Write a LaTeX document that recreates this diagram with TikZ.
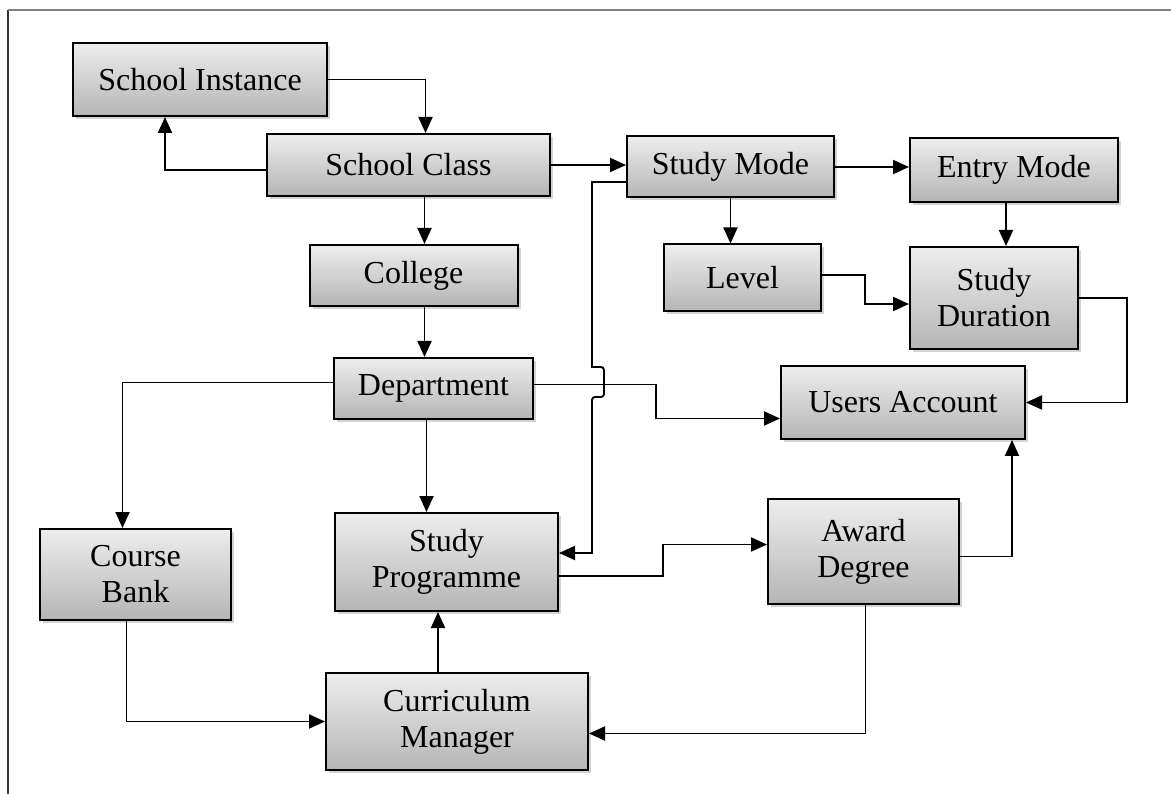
\documentclass[tikz,border=0pt]{standalone}
\usepackage{fontspec}
\setmainfont{Liberation Serif}
\usetikzlibrary{positioning,arrows.meta,calc,shadows}
\tikzset{
  box/.style={draw=black, line width=2pt, inner sep=0pt, align=center,
    top color=gray!14, bottom color=gray!58,
    drop shadow={shadow xshift=3pt, shadow yshift=-3pt, opacity=0.35, fill=gray},
    font=\fontsize{32}{36}\selectfont},
  link/.style={line width=1.9pt, -{Triangle[length=16pt,width=14pt]}},
}

\begin{document}
\begin{tikzpicture}[x=1pt,y=1pt]

\useasboundingbox (0,0) rectangle (1171,-794);
\draw[black!80, line width=1.4pt] (8,-794) -- (8,-10);
\draw[gray, line width=1.4pt] (8,-10) -- (1171,-10);

\node[box, minimum width=254pt, minimum height=73pt, anchor=north west] (inst) at (72,-42) {School Instance};
\node[box, minimum width=283pt, minimum height=62pt, below right=16pt and -62pt of inst] (cls) {School Class};
\node[box, minimum width=207pt, minimum height=61pt, right=75pt of cls, yshift=-2pt] (mode) {Study Mode};
\node[box, minimum width=208pt, minimum height=64pt, right=74pt of mode, yshift=-3pt] (entry) {Entry Mode};

\node[box, minimum width=208pt, minimum height=61pt, below=47pt of cls, xshift=5pt] (college) {College};
\node[box, minimum width=157pt, minimum height=67pt, below=45pt of mode, xshift=12pt] (level) {Level};
\node[box, minimum width=168pt, minimum height=102pt, below=43pt of entry, xshift=-20pt] (dur) {Study\\Duration};

\node[box, minimum width=199pt, minimum height=61pt, below=50pt of college, xshift=20pt] (dept) {Department};
\node[box, minimum width=244pt, minimum height=73pt, right=246pt of dept, yshift=-14pt] (users) {Users Account};

\node[box, minimum width=223pt, minimum height=98pt, below=92pt of dept, xshift=13pt] (prog) {Study\\Programme};
\node[box, minimum width=191pt, minimum height=91pt, left=102pt of prog, yshift=-12.5pt] (bank) {Course\\Bank};
\node[box, minimum width=191pt, minimum height=105pt, right=208pt of prog, yshift=10.5pt] (award) {Award\\Degree};
\node[box, minimum width=262pt, minimum height=97pt, below=60pt of prog, xshift=10.5pt] (curr) {Curriculum\\Manager};

\draw[link] (inst.east) -| ([xshift=17pt]cls.north);
\draw[link] ([yshift=-5pt]cls.west) -| ([xshift=-35pt]inst.south);
\draw[link] (cls.east) -- (cls.east -| mode.west);
\draw[link] (mode.east) -- (mode.east -| entry.west);
\draw[link] (mode.south) -- (mode.south |- level.north);
\draw[link] ([xshift=-8pt]entry.south) -- ([xshift=-8pt]entry.south |- dur.north);
\draw[link] ([yshift=3pt]level.east) -- ++(43pt,0) |- ([yshift=-6pt]dur.west);
\draw[link] (dur.east) -- ++(48pt,0) |- (users.east);
\draw[link] ([yshift=-5pt]award.east) -| ([xshift=109pt]users.south);

\draw[link] ([xshift=16pt]cls.south) -- ([xshift=16pt]cls.south |- college.north);
\draw[link] ([xshift=11pt]college.south) -- ([xshift=11pt]college.south |- dept.north);
\draw[link] ([xshift=-7pt]dept.south) -- ([xshift=-7pt]dept.south |- prog.north);
\draw[link] ([yshift=6pt]dept.west) -| ([xshift=-13pt]bank.north);
\draw[link] ([yshift=4pt]dept.east) -- ++(122pt,0) |- ([yshift=-16pt]users.west);
\draw[link] ([yshift=-15pt]mode.west) -- ++(-34pt,0) -- ++(0,-185pt) [rounded corners=3pt] -- ++(12pt,0)
  -- ++(0,-30pt) -- ++(-12pt,0) [sharp corners] |- ([yshift=9pt]prog.east);

\draw[link] ([xshift=-9pt]bank.south) |- (curr.west);
\draw[link] ([xshift=-19pt]curr.north) -- ([xshift=-19pt]curr.north |- prog.south);
\draw[link] ([yshift=-14pt]prog.east) -- ++(104pt,0) |- ([yshift=7pt]award.west);
\draw[link] ([xshift=2pt]award.south) |- ([yshift=-12pt]curr.east);

\end{tikzpicture}
\end{document}
